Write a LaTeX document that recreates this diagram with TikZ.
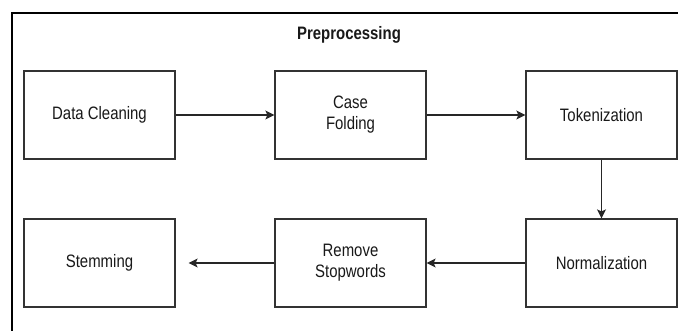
\documentclass[tikz,border=0pt]{standalone}
\usepackage{fontspec}
\setmainfont{Liberation Sans}[FakeStretch=0.83]
\usetikzlibrary{arrows.meta}
\begin{document}
\begin{tikzpicture}[x=1pt,y=-1pt,
  stepbox/.style={draw=black!80,line width=1.2pt,minimum width=151pt,minimum height=88pt,
    inner sep=0pt,align=center,font=\fontsize{18}{21}\selectfont,text=black!90},
  conn/.style={draw=black!85,line width=1.2pt,-{Stealth[length=9pt,width=9pt,inset=2pt]}}]
\useasboundingbox (0,0) rectangle (678,331);
\clip (0,0) rectangle (678,331);
\fill[white] (0,0) rectangle (678,331);
\draw[line width=1.5pt,black] (12,340) -- (12,13) -- (700,13);
\node[font=\fontsize{18}{21}\selectfont\bfseries,text=black!90] (title) at (349,35) {Preprocessing};
\node[stepbox] (dc) at (99.5,115) {Data Cleaning};
\node[stepbox] (cf) at (350.5,115) {Case\\Folding};
\node[stepbox] (tk) at (601.5,115) {Tokenization};
\node[stepbox] (nm) at (601.5,263) {Normalization};
\node[stepbox] (rs) at (350.5,263) {Remove\\Stopwords};
\node[stepbox] (st) at (99.5,263) {Stemming};
\draw[conn] (dc) -- (cf);
\draw[conn] (cf) -- (tk);
\draw[conn] (tk) -- (nm);
\draw[conn] (nm) -- (rs);
\draw[conn,shorten >=13pt] (rs) -- (st);
\end{tikzpicture}
\end{document}
